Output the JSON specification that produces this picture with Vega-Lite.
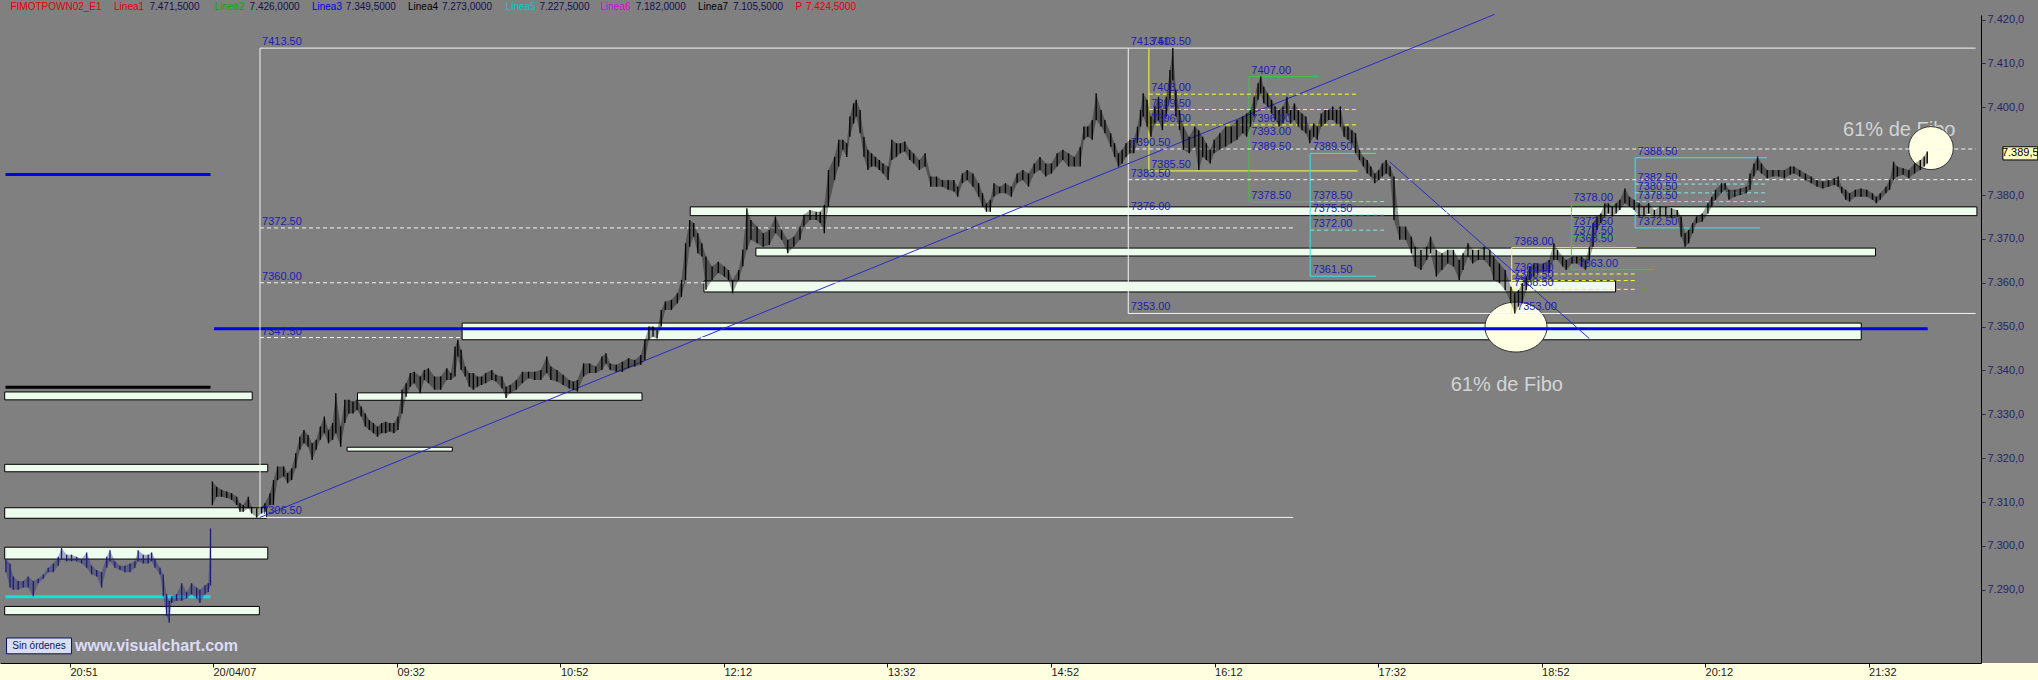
{
"$schema":"https://vega.github.io/schema/vega-lite/v6.json",
"width":1981,"height":648,
"autosize":{"type":"none"},
"padding":{"left":0,"top":15,"right":57,"bottom":17},
"background":"#808080",
"config":{"view":{"stroke":null,"fill":"#808080"},"legend":{"disable":true},"font":"Liberation Sans"},
"datasets":{
"zones":[
{"x":-191.9,"x2":-70.8,"y":7333.3,"y2":7335.1},
{"x":-191.9,"x2":-63.2,"y":7316.9,"y2":7318.6},
{"x":-191.9,"x2":-63.8,"y":7306.3,"y2":7308.7},
{"x":-191.9,"x2":-63.2,"y":7297.0,"y2":7299.7},
{"x":-191.9,"x2":-67.3,"y":7284.3,"y2":7286.2},
{"x":-19.3,"x2":119.9,"y":7333.2,"y2":7334.9},
{"x":-24.4,"x2":27.1,"y":7321.6,"y2":7322.5},
{"x":31.9,"x2":716.4,"y":7347.0,"y2":7350.8},
{"x":143.5,"x2":773.0,"y":7375.3,"y2":7377.3},
{"x":175.6,"x2":723.4,"y":7366.1,"y2":7367.9},
{"x":150.2,"x2":596.2,"y":7357.9,"y2":7360.4}],
"segs":[
{"x":-67,"x2":-67,"y":7306.5,"y2":7413.5,"k":"white"},
{"x":-67,"x2":772.4,"y":7413.5,"y2":7413.5,"k":"white"},
{"x":-67,"x2":438.5,"y":7306.5,"y2":7306.5,"k":"white"},
{"x":357.8,"x2":357.8,"y":7353,"y2":7413.5,"k":"white"},
{"x":357.8,"x2":772.4,"y":7353,"y2":7353,"k":"white"},
{"x":367.9,"x2":367.9,"y":7385.5,"y2":7413.5,"k":"yellow"},
{"x":367.9,"x2":470,"y":7385.5,"y2":7385.5,"k":"yellow"},
{"x":416.9,"x2":416.9,"y":7378.5,"y2":7407,"k":"green"},
{"x":416.9,"x2":451,"y":7407,"y2":7407,"k":"green"},
{"x":416.9,"x2":479,"y":7378.5,"y2":7378.5,"k":"green"},
{"x":446.8,"x2":446.8,"y":7361.5,"y2":7389.5,"k":"cyan"},
{"x":446.8,"x2":479,"y":7389.5,"y2":7389.5,"k":"cyan"},
{"x":446.8,"x2":479,"y":7361.5,"y2":7361.5,"k":"cyan"},
{"x":545.4,"x2":545.4,"y":7353,"y2":7368,"k":"yellow"},
{"x":545.4,"x2":606.4,"y":7368,"y2":7368,"k":"yellow"},
{"x":574.6,"x2":574.6,"y":7363,"y2":7378,"k":"green"},
{"x":574.6,"x2":596,"y":7378,"y2":7378,"k":"green"},
{"x":574.6,"x2":615.3,"y":7363,"y2":7363,"k":"green"},
{"x":605.8,"x2":605.8,"y":7372.5,"y2":7388.5,"k":"cyan"},
{"x":605.8,"x2":670.3,"y":7388.5,"y2":7388.5,"k":"cyan"},
{"x":605.8,"x2":666.8,"y":7372.5,"y2":7372.5,"k":"cyan"},
{"x":-67,"x2":537.1,"y":7306.5,"y2":7421.2,"k":"blue"},
{"x":485.6,"x2":583.3,"y":7387.6,"y2":7347.3,"k":"blue"}],
"dash":[
{"x":-67,"x2":438.5,"y":7372.5,"k":"white"},
{"x":-67,"x2":438.5,"y":7360.0,"k":"white"},
{"x":-67,"x2":438.5,"y":7347.5,"k":"white"},
{"x":357.8,"x2":772.4,"y":7390.5,"k":"white"},
{"x":357.8,"x2":772.4,"y":7383.5,"k":"white"},
{"x":357.8,"x2":772.4,"y":7376.0,"k":"white"},
{"x":367.9,"x2":470,"y":7403.0,"k":"yellow"},
{"x":367.9,"x2":470,"y":7399.5,"k":"yellow"},
{"x":367.9,"x2":470,"y":7396.0,"k":"yellow"},
{"x":545.4,"x2":606.4,"y":7362.0,"k":"yellow"},
{"x":545.4,"x2":606.4,"y":7360.5,"k":"yellow"},
{"x":545.4,"x2":606.4,"y":7358.5,"k":"yellow"},
{"x":446.8,"x2":483,"y":7378.5,"k":"cyan"},
{"x":446.8,"x2":483,"y":7375.5,"k":"cyan"},
{"x":446.8,"x2":483,"y":7372.0,"k":"cyan"},
{"x":605.8,"x2":670.3,"y":7382.5,"k":"cyan"},
{"x":605.8,"x2":670.3,"y":7380.5,"k":"cyan"},
{"x":605.8,"x2":670.3,"y":7378.5,"k":"cyan"},
{"x":574.6,"x2":596,"y":7372.5,"k":"green"},
{"x":574.6,"x2":596,"y":7370.5,"k":"green"},
{"x":574.6,"x2":596,"y":7368.5,"k":"green"}],
"thick":[
{"x":-89.5,"x2":748.9,"y":7349.5,"k":"blue"},
{"x":-191.5,"x2":-91.2,"y":7384.7,"k":"blue"},
{"x":-191.5,"x2":-91.2,"y":7336.2,"k":"black"},
{"x":-191.5,"x2":-91.2,"y":7288.4,"k":"cyan"}],
"circles":[{"x":547.5,"y":7349.9,"k":"a"},{"x":750.5,"y":7390.7,"k":"b"}],
"notes":[{"x":543,"y":7336.6,"text":"61% de Fibo"},{"x":735,"y":7394.9,"text":"61% de Fibo"}],
"labels":[
{"x":-66,"y":7413.5,"text":"7413.50"},{"x":-66,"y":7372.5,"text":"7372.50"},{"x":-66,"y":7360.0,"text":"7360.00"},{"x":-66,"y":7347.5,"text":"7347.50"},{"x":-66,"y":7306.5,"text":"7306.50"},
{"x":359,"y":7413.5,"text":"7413.50"},{"x":359,"y":7390.5,"text":"7390.50"},{"x":359,"y":7383.5,"text":"7383.50"},{"x":359,"y":7376.0,"text":"7376.00"},{"x":359,"y":7353.0,"text":"7353.00"},
{"x":369,"y":7413.5,"text":"7413.50"},{"x":369,"y":7403.0,"text":"7403.00"},{"x":369,"y":7399.5,"text":"7399.50"},{"x":369,"y":7396.0,"text":"7396.00"},{"x":369,"y":7385.5,"text":"7385.50"},
{"x":418,"y":7407.0,"text":"7407.00"},{"x":418,"y":7396.0,"text":"7396.00"},{"x":418,"y":7393.0,"text":"7393.00"},{"x":418,"y":7389.5,"text":"7389.50"},{"x":418,"y":7378.5,"text":"7378.50"},
{"x":448,"y":7389.5,"text":"7389.50"},{"x":448,"y":7378.5,"text":"7378.50"},{"x":448,"y":7375.5,"text":"7375.50"},{"x":448,"y":7372.0,"text":"7372.00"},{"x":448,"y":7361.5,"text":"7361.50"},
{"x":546.5,"y":7368.0,"text":"7368.00"},{"x":546.5,"y":7362.0,"text":"7362.00"},{"x":546.5,"y":7360.5,"text":"7360.50"},{"x":546.5,"y":7358.5,"text":"7358.50"},{"x":548,"y":7353.0,"text":"7353.00"},
{"x":575.5,"y":7378.0,"text":"7378.00"},{"x":575.5,"y":7372.5,"text":"7372.50"},{"x":575.5,"y":7370.5,"text":"7370.50"},{"x":575.5,"y":7368.5,"text":"7368.50"},{"x":578,"y":7363.0,"text":"7363.00"},
{"x":607,"y":7388.5,"text":"7388.50"},{"x":607,"y":7382.5,"text":"7382.50"},{"x":607,"y":7380.5,"text":"7380.50"},{"x":607,"y":7378.5,"text":"7378.50"},{"x":607,"y":7372.5,"text":"7372.50"}],
"header":[
{"x":-189.1,"y":7422.9,"text":"FIMOTPOWN02_E1","k":"red"},
{"x":-138.4,"y":7422.9,"text":"Linea1","k":"red"},
{"x":-121.1,"y":7422.9,"text":"7.471,5000","k":"navy"},
{"x":-89.3,"y":7422.9,"text":"Linea2","k":"green"},
{"x":-72.1,"y":7422.9,"text":"7.426,0000","k":"navy"},
{"x":-41.6,"y":7422.9,"text":"Linea3","k":"blue"},
{"x":-25.0,"y":7422.9,"text":"7.349,5000","k":"navy"},
{"x":5.4,"y":7422.9,"text":"Linea4","k":"black"},
{"x":22.0,"y":7422.9,"text":"7.273,0000","k":"navy"},
{"x":53.2,"y":7422.9,"text":"Linea5","k":"cyan"},
{"x":69.7,"y":7422.9,"text":"7.227,5000","k":"navy"},
{"x":99.6,"y":7422.9,"text":"Linea6","k":"magenta"},
{"x":116.8,"y":7422.9,"text":"7.182,0000","k":"navy"},
{"x":147.3,"y":7422.9,"text":"Linea7","k":"black"},
{"x":164.4,"y":7422.9,"text":"7.105,5000","k":"navy"},
{"x":195.0,"y":7422.9,"text":"P","k":"red"},
{"x":200.1,"y":7422.9,"text":"7.424,5000","k":"red"}],
"bars":[
{"x":-191.3,"y":7294.0,"y2":7297.0,"d":"p"},{"x":-189.3,"y":7290.5,"y2":7296.0,"d":"p"},{"x":-187.7,"y":7290.0,"y2":7293.0,"d":"p"},{"x":-185.3,"y":7290.0,"y2":7292.0,"d":"p"},{"x":-182.8,"y":7290.5,"y2":7292.0,"d":"p"},{"x":-180.4,"y":7290.5,"y2":7293.0,"d":"p"},{"x":-177.9,"y":7288.5,"y2":7292.0,"d":"p"},{"x":-175.5,"y":7291.5,"y2":7292.5,"d":"p"},{"x":-173.0,"y":7292.5,"y2":7293.5,"d":"p"},{"x":-170.6,"y":7294.0,"y2":7295.0,"d":"p"},{"x":-168.1,"y":7294.0,"y2":7296.0,"d":"p"},{"x":-165.7,"y":7295.5,"y2":7297.5,"d":"p"},{"x":-164.1,"y":7297.0,"y2":7299.5,"d":"p"},{"x":-161.6,"y":7296.5,"y2":7298.0,"d":"p"},{"x":-159.2,"y":7296.5,"y2":7298.0,"d":"p"},{"x":-156.7,"y":7296.5,"y2":7297.5,"d":"p"},{"x":-154.3,"y":7296.0,"y2":7297.0,"d":"p"},{"x":-151.8,"y":7295.0,"y2":7298.5,"d":"p"},{"x":-149.4,"y":7293.5,"y2":7295.5,"d":"p"},{"x":-146.9,"y":7293.0,"y2":7294.5,"d":"p"},{"x":-144.5,"y":7290.5,"y2":7294.0,"d":"p"},{"x":-142.0,"y":7295.0,"y2":7297.5,"d":"p"},{"x":-140.4,"y":7296.5,"y2":7299.0,"d":"p"},{"x":-138.0,"y":7295.0,"y2":7296.5,"d":"p"},{"x":-135.5,"y":7294.5,"y2":7295.5,"d":"p"},{"x":-133.1,"y":7294.0,"y2":7295.5,"d":"p"},{"x":-130.6,"y":7294.0,"y2":7296.0,"d":"p"},{"x":-128.2,"y":7295.0,"y2":7296.5,"d":"p"},{"x":-126.6,"y":7296.5,"y2":7299.0,"d":"p"},{"x":-124.1,"y":7296.0,"y2":7298.0,"d":"p"},{"x":-121.7,"y":7296.0,"y2":7298.0,"d":"p"},{"x":-120.0,"y":7296.5,"y2":7298.5,"d":"p"},{"x":-118.4,"y":7295.0,"y2":7297.0,"d":"p"},{"x":-115.9,"y":7293.5,"y2":7295.0,"d":"p"},{"x":-114.3,"y":7288.5,"y2":7293.5,"d":"p"},{"x":-112.7,"y":7284.0,"y2":7289.0,"d":"p"},{"x":-111.4,"y":7282.5,"y2":7287.5,"d":"p"},{"x":-110.2,"y":7287.0,"y2":7288.5,"d":"p"},{"x":-107.8,"y":7287.5,"y2":7289.0,"d":"p"},{"x":-105.3,"y":7287.5,"y2":7291.5,"d":"p"},{"x":-102.9,"y":7288.0,"y2":7289.5,"d":"p"},{"x":-100.5,"y":7289.0,"y2":7291.5,"d":"p"},{"x":-98.0,"y":7288.0,"y2":7290.5,"d":"p"},{"x":-96.4,"y":7287.0,"y2":7290.0,"d":"p"},{"x":-93.9,"y":7289.0,"y2":7291.0,"d":"p"},{"x":-92.3,"y":7289.5,"y2":7291.5,"d":"p"},{"x":-91.2,"y":7291.0,"y2":7304.0,"d":"p"},
{"x":-90.3,"y":7309.3,"y2":7314.7,"d":"c"},{"x":-88.2,"y":7311.2,"y2":7313.5,"d":"c"},{"x":-85.8,"y":7311.2,"y2":7312.8,"d":"c"},{"x":-83.3,"y":7310.9,"y2":7312.4,"d":"c"},{"x":-80.9,"y":7310.5,"y2":7312.0,"d":"c"},{"x":-78.4,"y":7309.3,"y2":7311.2,"d":"c"},{"x":-76.8,"y":7307.8,"y2":7309.7,"d":"c"},{"x":-75.2,"y":7307.8,"y2":7309.3,"d":"c"},{"x":-72.7,"y":7308.6,"y2":7311.2,"d":"c"},{"x":-71.1,"y":7307.4,"y2":7308.9,"d":"c"},{"x":-68.6,"y":7306.5,"y2":7308.6,"d":"c"},{"x":-66.2,"y":7307.4,"y2":7308.9,"d":"c"},{"x":-64.6,"y":7307.8,"y2":7309.7,"d":"c"},{"x":-62.1,"y":7309.3,"y2":7312.0,"d":"c"},{"x":-60.4,"y":7309.3,"y2":7315.0,"d":"c"},{"x":-58.4,"y":7315.0,"y2":7318.1,"d":"c"},{"x":-55.4,"y":7315.8,"y2":7318.1,"d":"c"},{"x":-53.5,"y":7314.3,"y2":7316.6,"d":"c"},{"x":-51.5,"y":7315.0,"y2":7317.7,"d":"c"},{"x":-49.5,"y":7317.7,"y2":7321.1,"d":"c"},{"x":-47.5,"y":7321.9,"y2":7324.9,"d":"c"},{"x":-45.5,"y":7323.4,"y2":7326.4,"d":"c"},{"x":-43.5,"y":7322.6,"y2":7325.3,"d":"c"},{"x":-41.5,"y":7319.6,"y2":7323.4,"d":"c"},{"x":-39.5,"y":7321.9,"y2":7324.2,"d":"c"},{"x":-37.5,"y":7324.2,"y2":7327.2,"d":"c"},{"x":-35.5,"y":7325.7,"y2":7329.5,"d":"c"},{"x":-33.5,"y":7323.4,"y2":7326.4,"d":"c"},{"x":-31.5,"y":7324.2,"y2":7328.0,"d":"c"},{"x":-29.9,"y":7325.7,"y2":7334.8,"d":"c"},{"x":-27.5,"y":7322.6,"y2":7327.2,"d":"c"},{"x":-25.5,"y":7328.0,"y2":7333.3,"d":"c"},{"x":-23.5,"y":7330.2,"y2":7333.3,"d":"c"},{"x":-21.5,"y":7330.2,"y2":7332.9,"d":"c"},{"x":-19.5,"y":7331.0,"y2":7333.3,"d":"c"},{"x":-17.5,"y":7329.5,"y2":7331.8,"d":"c"},{"x":-15.5,"y":7327.2,"y2":7330.2,"d":"c"},{"x":-13.5,"y":7326.4,"y2":7328.7,"d":"c"},{"x":-11.5,"y":7325.7,"y2":7328.0,"d":"c"},{"x":-9.5,"y":7324.9,"y2":7327.2,"d":"c"},{"x":-7.5,"y":7325.7,"y2":7328.0,"d":"c"},{"x":-5.5,"y":7325.7,"y2":7328.3,"d":"c"},{"x":-3.5,"y":7326.1,"y2":7328.0,"d":"c"},{"x":-1.5,"y":7325.7,"y2":7328.0,"d":"c"},{"x":0.5,"y":7326.4,"y2":7329.5,"d":"c"},{"x":2.5,"y":7330.2,"y2":7335.6,"d":"c"},{"x":4.5,"y":7334.0,"y2":7337.1,"d":"c"},{"x":6.5,"y":7336.3,"y2":7339.4,"d":"c"},{"x":8.5,"y":7337.1,"y2":7339.7,"d":"c"},{"x":11.4,"y":7334.8,"y2":7338.6,"d":"c"},{"x":13.4,"y":7337.8,"y2":7340.1,"d":"c"},{"x":15.4,"y":7337.1,"y2":7340.5,"d":"c"},{"x":18.4,"y":7335.6,"y2":7338.6,"d":"c"},{"x":21.4,"y":7335.6,"y2":7338.6,"d":"c"},{"x":24.4,"y":7337.8,"y2":7340.5,"d":"c"},{"x":26.4,"y":7337.8,"y2":7339.4,"d":"c"},{"x":28.4,"y":7338.6,"y2":7345.4,"d":"c"},{"x":29.8,"y":7343.2,"y2":7347.0,"d":"c"},{"x":31.4,"y":7340.1,"y2":7344.7,"d":"c"},{"x":33.4,"y":7338.6,"y2":7340.9,"d":"c"},{"x":35.4,"y":7336.3,"y2":7339.4,"d":"c"},{"x":37.4,"y":7335.6,"y2":7339.4,"d":"c"},{"x":39.4,"y":7336.3,"y2":7338.6,"d":"c"},{"x":41.4,"y":7336.7,"y2":7338.6,"d":"c"},{"x":43.4,"y":7337.1,"y2":7339.4,"d":"c"},{"x":46.4,"y":7337.8,"y2":7340.1,"d":"c"},{"x":48.4,"y":7337.5,"y2":7339.0,"d":"c"},{"x":51.4,"y":7335.9,"y2":7338.6,"d":"c"},{"x":53.4,"y":7333.7,"y2":7336.3,"d":"c"},{"x":55.4,"y":7334.8,"y2":7336.7,"d":"c"},{"x":58.4,"y":7335.6,"y2":7337.8,"d":"c"},{"x":61.4,"y":7337.1,"y2":7339.7,"d":"c"},{"x":64.4,"y":7338.2,"y2":7339.7,"d":"c"},{"x":67.4,"y":7337.8,"y2":7339.7,"d":"c"},{"x":70.4,"y":7337.8,"y2":7340.1,"d":"c"},{"x":73.3,"y":7339.4,"y2":7343.2,"d":"c"},{"x":75.3,"y":7337.8,"y2":7340.9,"d":"c"},{"x":78.3,"y":7337.5,"y2":7340.1,"d":"c"},{"x":81.3,"y":7336.7,"y2":7339.0,"d":"c"},{"x":84.3,"y":7335.9,"y2":7337.8,"d":"c"},{"x":86.3,"y":7335.6,"y2":7337.5,"d":"c"},{"x":88.3,"y":7335.2,"y2":7337.8,"d":"c"},{"x":91.3,"y":7338.6,"y2":7341.6,"d":"c"},{"x":94.3,"y":7339.4,"y2":7341.6,"d":"c"},{"x":97.3,"y":7339.4,"y2":7340.9,"d":"c"},{"x":100.3,"y":7340.1,"y2":7343.2,"d":"c"},{"x":102.3,"y":7341.6,"y2":7343.9,"d":"c"},{"x":104.3,"y":7340.1,"y2":7341.6,"d":"c"},{"x":107.3,"y":7339.7,"y2":7341.3,"d":"c"},{"x":110.3,"y":7339.7,"y2":7342.0,"d":"c"},{"x":113.3,"y":7340.5,"y2":7342.8,"d":"c"},{"x":116.3,"y":7340.9,"y2":7342.4,"d":"c"},{"x":119.3,"y":7341.3,"y2":7343.5,"d":"c"},{"x":121.3,"y":7342.4,"y2":7347.0,"d":"c"},{"x":123.3,"y":7347.0,"y2":7350.0,"d":"c"},{"x":125.3,"y":7347.7,"y2":7350.0,"d":"c"},{"x":127.3,"y":7347.3,"y2":7349.2,"d":"c"},{"x":129.3,"y":7350.0,"y2":7353.8,"d":"c"},{"x":131.3,"y":7353.8,"y2":7355.7,"d":"c"},{"x":134.3,"y":7353.8,"y2":7356.1,"d":"c"},{"x":137.2,"y":7355.3,"y2":7357.6,"d":"c"},{"x":139.2,"y":7356.8,"y2":7360.6,"d":"c"},{"x":141.2,"y":7360.6,"y2":7369.0,"d":"c"},{"x":143.2,"y":7368.2,"y2":7374.3,"d":"c"},{"x":145.2,"y":7370.5,"y2":7373.6,"d":"c"},{"x":147.2,"y":7366.7,"y2":7371.3,"d":"c"},{"x":149.2,"y":7366.0,"y2":7369.0,"d":"c"},{"x":151.2,"y":7358.4,"y2":7366.0,"d":"c"},{"x":154.2,"y":7360.6,"y2":7363.7,"d":"c"},{"x":157.2,"y":7362.2,"y2":7364.8,"d":"c"},{"x":160.2,"y":7361.4,"y2":7363.7,"d":"c"},{"x":162.2,"y":7360.6,"y2":7362.9,"d":"c"},{"x":164.2,"y":7357.6,"y2":7360.6,"d":"c"},{"x":167.2,"y":7360.6,"y2":7362.9,"d":"c"},{"x":169.2,"y":7363.7,"y2":7367.5,"d":"c"},{"x":171.2,"y":7367.5,"y2":7377.0,"d":"c"},{"x":173.2,"y":7369.8,"y2":7374.3,"d":"c"},{"x":176.2,"y":7369.0,"y2":7372.8,"d":"c"},{"x":179.2,"y":7368.2,"y2":7371.3,"d":"c"},{"x":182.2,"y":7368.6,"y2":7372.0,"d":"c"},{"x":185.2,"y":7371.3,"y2":7375.1,"d":"c"},{"x":188.2,"y":7369.8,"y2":7372.0,"d":"c"},{"x":191.2,"y":7366.7,"y2":7369.8,"d":"c"},{"x":194.2,"y":7368.2,"y2":7370.5,"d":"c"},{"x":197.2,"y":7369.8,"y2":7372.8,"d":"c"},{"x":199.1,"y":7372.8,"y2":7375.5,"d":"c"},{"x":202.1,"y":7374.3,"y2":7376.6,"d":"c"},{"x":205.1,"y":7374.3,"y2":7376.2,"d":"c"},{"x":207.1,"y":7373.6,"y2":7376.2,"d":"c"},{"x":209.1,"y":7371.3,"y2":7377.7,"d":"c"},{"x":211.1,"y":7377.4,"y2":7385.7,"d":"c"},{"x":214.1,"y":7383.4,"y2":7388.7,"d":"c"},{"x":216.1,"y":7386.5,"y2":7392.6,"d":"c"},{"x":218.2,"y":7390.3,"y2":7392.6,"d":"c"},{"x":220.1,"y":7388.7,"y2":7391.8,"d":"c"},{"x":221.6,"y":7393.3,"y2":7397.9,"d":"c"},{"x":223.4,"y":7396.3,"y2":7400.9,"d":"c"},{"x":224.7,"y":7397.9,"y2":7401.7,"d":"c"},{"x":226.6,"y":7394.1,"y2":7399.4,"d":"c"},{"x":228.5,"y":7388.7,"y2":7393.3,"d":"c"},{"x":230.4,"y":7385.7,"y2":7390.3,"d":"c"},{"x":232.2,"y":7386.5,"y2":7389.5,"d":"c"},{"x":234.1,"y":7386.5,"y2":7388.7,"d":"c"},{"x":236.0,"y":7385.7,"y2":7388.0,"d":"c"},{"x":237.8,"y":7384.9,"y2":7387.2,"d":"c"},{"x":240.3,"y":7383.4,"y2":7386.5,"d":"c"},{"x":242.1,"y":7388.0,"y2":7392.6,"d":"c"},{"x":244.4,"y":7388.7,"y2":7391.8,"d":"c"},{"x":246.3,"y":7389.5,"y2":7391.8,"d":"c"},{"x":248.5,"y":7389.9,"y2":7392.2,"d":"c"},{"x":250.9,"y":7388.0,"y2":7390.3,"d":"c"},{"x":252.8,"y":7387.2,"y2":7389.5,"d":"c"},{"x":255.6,"y":7385.7,"y2":7388.0,"d":"c"},{"x":258.4,"y":7386.5,"y2":7389.5,"d":"c"},{"x":261.2,"y":7381.9,"y2":7384.2,"d":"c"},{"x":264.0,"y":7381.9,"y2":7384.2,"d":"c"},{"x":266.9,"y":7381.9,"y2":7383.4,"d":"c"},{"x":269.7,"y":7381.2,"y2":7383.4,"d":"c"},{"x":272.5,"y":7380.8,"y2":7383.4,"d":"c"},{"x":274.4,"y":7379.6,"y2":7381.9,"d":"c"},{"x":276.6,"y":7382.7,"y2":7384.9,"d":"c"},{"x":279.0,"y":7383.4,"y2":7385.7,"d":"c"},{"x":281.8,"y":7381.9,"y2":7384.9,"d":"c"},{"x":284.6,"y":7379.6,"y2":7382.7,"d":"c"},{"x":286.5,"y":7377.4,"y2":7380.4,"d":"c"},{"x":288.4,"y":7376.2,"y2":7378.1,"d":"c"},{"x":290.3,"y":7376.2,"y2":7378.9,"d":"c"},{"x":292.1,"y":7379.6,"y2":7382.7,"d":"c"},{"x":294.9,"y":7380.4,"y2":7381.9,"d":"c"},{"x":297.7,"y":7380.4,"y2":7382.7,"d":"c"},{"x":300.6,"y":7379.6,"y2":7381.9,"d":"c"},{"x":303.4,"y":7382.7,"y2":7384.9,"d":"c"},{"x":306.2,"y":7383.4,"y2":7385.7,"d":"c"},{"x":309.0,"y":7381.9,"y2":7384.9,"d":"c"},{"x":311.8,"y":7384.9,"y2":7387.2,"d":"c"},{"x":314.6,"y":7385.7,"y2":7388.7,"d":"c"},{"x":317.4,"y":7384.2,"y2":7387.2,"d":"c"},{"x":320.2,"y":7384.9,"y2":7387.2,"d":"c"},{"x":323.0,"y":7386.5,"y2":7389.5,"d":"c"},{"x":325.8,"y":7388.0,"y2":7390.3,"d":"c"},{"x":328.6,"y":7386.5,"y2":7389.5,"d":"c"},{"x":331.4,"y":7386.5,"y2":7388.7,"d":"c"},{"x":334.3,"y":7386.5,"y2":7391.0,"d":"c"},{"x":336.1,"y":7392.6,"y2":7395.6,"d":"c"},{"x":338.0,"y":7393.3,"y2":7395.6,"d":"c"},{"x":340.2,"y":7392.6,"y2":7397.1,"d":"c"},{"x":342.1,"y":7397.1,"y2":7403.2,"d":"c"},{"x":344.5,"y":7395.6,"y2":7399.4,"d":"c"},{"x":346.4,"y":7394.1,"y2":7397.1,"d":"c"},{"x":349.2,"y":7391.0,"y2":7394.1,"d":"c"},{"x":351.1,"y":7388.7,"y2":7391.8,"d":"c"},{"x":353.0,"y":7386.5,"y2":7389.5,"d":"c"},{"x":354.8,"y":7387.2,"y2":7390.3,"d":"c"},{"x":356.7,"y":7388.7,"y2":7391.8,"d":"c"},{"x":358.6,"y":7389.5,"y2":7392.6,"d":"c"},{"x":360.5,"y":7389.5,"y2":7392.6,"d":"c"},{"x":362.3,"y":7391.8,"y2":7395.6,"d":"c"},{"x":363.8,"y":7395.6,"y2":7399.4,"d":"c"},{"x":365.1,"y":7397.9,"y2":7403.2,"d":"c"},{"x":367.0,"y":7395.6,"y2":7401.7,"d":"c"},{"x":368.9,"y":7393.3,"y2":7397.9,"d":"c"},{"x":370.8,"y":7396.3,"y2":7400.2,"d":"c"},{"x":372.6,"y":7397.1,"y2":7402.4,"d":"c"},{"x":374.5,"y":7394.8,"y2":7399.4,"d":"c"},{"x":376.4,"y":7397.9,"y2":7402.4,"d":"c"},{"x":378.2,"y":7401.7,"y2":7408.5,"d":"c"},{"x":379.6,"y":7406.2,"y2":7413.5,"d":"c"},{"x":381.1,"y":7397.9,"y2":7404.0,"d":"c"},{"x":382.9,"y":7394.8,"y2":7399.4,"d":"c"},{"x":384.8,"y":7390.3,"y2":7395.6,"d":"c"},{"x":387.6,"y":7389.5,"y2":7393.3,"d":"c"},{"x":390.4,"y":7391.0,"y2":7395.6,"d":"c"},{"x":392.3,"y":7385.7,"y2":7394.8,"d":"c"},{"x":394.2,"y":7388.7,"y2":7393.3,"d":"c"},{"x":396.0,"y":7388.0,"y2":7391.8,"d":"c"},{"x":397.9,"y":7387.2,"y2":7390.3,"d":"c"},{"x":399.8,"y":7389.5,"y2":7392.6,"d":"c"},{"x":402.6,"y":7390.3,"y2":7394.1,"d":"c"},{"x":405.4,"y":7391.0,"y2":7395.6,"d":"c"},{"x":408.2,"y":7391.8,"y2":7395.6,"d":"c"},{"x":411.0,"y":7392.6,"y2":7397.1,"d":"c"},{"x":413.8,"y":7394.1,"y2":7397.9,"d":"c"},{"x":415.7,"y":7393.3,"y2":7398.6,"d":"c"},{"x":417.6,"y":7395.6,"y2":7399.4,"d":"c"},{"x":419.4,"y":7397.9,"y2":7402.4,"d":"c"},{"x":421.3,"y":7401.7,"y2":7405.5,"d":"c"},{"x":422.6,"y":7403.2,"y2":7407.0,"d":"c"},{"x":424.1,"y":7400.9,"y2":7404.7,"d":"c"},{"x":426.0,"y":7400.2,"y2":7403.2,"d":"c"},{"x":427.9,"y":7398.6,"y2":7401.7,"d":"c"},{"x":429.7,"y":7397.1,"y2":7400.2,"d":"c"},{"x":431.6,"y":7395.6,"y2":7399.4,"d":"c"},{"x":433.5,"y":7396.3,"y2":7400.2,"d":"c"},{"x":435.4,"y":7398.6,"y2":7402.4,"d":"c"},{"x":437.2,"y":7396.3,"y2":7399.4,"d":"c"},{"x":439.1,"y":7397.1,"y2":7400.9,"d":"c"},{"x":441.0,"y":7395.6,"y2":7399.4,"d":"c"},{"x":442.8,"y":7394.8,"y2":7398.6,"d":"c"},{"x":444.7,"y":7394.1,"y2":7397.9,"d":"c"},{"x":446.6,"y":7391.8,"y2":7394.8,"d":"c"},{"x":448.5,"y":7393.3,"y2":7396.3,"d":"c"},{"x":450.3,"y":7392.6,"y2":7395.6,"d":"c"},{"x":452.2,"y":7395.6,"y2":7398.6,"d":"c"},{"x":454.1,"y":7396.3,"y2":7399.4,"d":"c"},{"x":455.9,"y":7397.1,"y2":7399.4,"d":"c"},{"x":457.8,"y":7397.1,"y2":7400.2,"d":"c"},{"x":459.7,"y":7396.3,"y2":7399.4,"d":"c"},{"x":461.6,"y":7395.6,"y2":7400.2,"d":"c"},{"x":463.4,"y":7393.3,"y2":7395.6,"d":"c"},{"x":465.3,"y":7392.6,"y2":7395.6,"d":"c"},{"x":467.2,"y":7391.8,"y2":7394.8,"d":"c"},{"x":469.0,"y":7389.5,"y2":7394.1,"d":"c"},{"x":470.9,"y":7388.0,"y2":7390.3,"d":"c"},{"x":472.8,"y":7386.5,"y2":7388.7,"d":"c"},{"x":474.7,"y":7384.9,"y2":7388.0,"d":"c"},{"x":476.5,"y":7384.2,"y2":7386.5,"d":"c"},{"x":478.4,"y":7382.7,"y2":7384.9,"d":"c"},{"x":480.3,"y":7383.4,"y2":7385.7,"d":"c"},{"x":482.1,"y":7384.2,"y2":7387.2,"d":"c"},{"x":484.0,"y":7384.9,"y2":7388.0,"d":"c"},{"x":485.9,"y":7384.2,"y2":7386.5,"d":"c"},{"x":487.8,"y":7374.3,"y2":7384.2,"d":"c"},{"x":490.6,"y":7369.8,"y2":7372.8,"d":"c"},{"x":493.5,"y":7369.8,"y2":7372.8,"d":"c"},{"x":496.3,"y":7366.7,"y2":7370.5,"d":"c"},{"x":498.2,"y":7363.7,"y2":7368.2,"d":"c"},{"x":501.0,"y":7362.9,"y2":7367.5,"d":"c"},{"x":503.8,"y":7365.2,"y2":7368.2,"d":"c"},{"x":505.7,"y":7366.7,"y2":7370.5,"d":"c"},{"x":508.5,"y":7361.4,"y2":7367.5,"d":"c"},{"x":511.3,"y":7362.9,"y2":7366.7,"d":"c"},{"x":514.1,"y":7364.4,"y2":7367.5,"d":"c"},{"x":516.9,"y":7363.7,"y2":7367.5,"d":"c"},{"x":519.7,"y":7360.6,"y2":7365.2,"d":"c"},{"x":521.6,"y":7362.9,"y2":7366.7,"d":"c"},{"x":524.0,"y":7366.0,"y2":7369.0,"d":"c"},{"x":526.3,"y":7364.4,"y2":7367.5,"d":"c"},{"x":529.1,"y":7365.2,"y2":7367.5,"d":"c"},{"x":531.9,"y":7365.2,"y2":7368.2,"d":"c"},{"x":534.7,"y":7363.7,"y2":7367.5,"d":"c"},{"x":536.6,"y":7360.6,"y2":7366.0,"d":"c"},{"x":539.4,"y":7359.9,"y2":7364.4,"d":"c"},{"x":542.2,"y":7358.3,"y2":7362.9,"d":"c"},{"x":545.0,"y":7355.3,"y2":7359.1,"d":"c"},{"x":546.9,"y":7353.0,"y2":7357.6,"d":"c"},{"x":548.7,"y":7354.6,"y2":7358.3,"d":"c"},{"x":550.6,"y":7355.3,"y2":7359.9,"d":"c"},{"x":552.5,"y":7358.3,"y2":7361.4,"d":"c"},{"x":554.3,"y":7360.6,"y2":7363.7,"d":"c"},{"x":556.2,"y":7361.4,"y2":7364.4,"d":"c"},{"x":558.1,"y":7362.2,"y2":7364.4,"d":"c"},{"x":560.9,"y":7362.5,"y2":7364.4,"d":"c"},{"x":563.7,"y":7362.2,"y2":7365.2,"d":"c"},{"x":566.0,"y":7365.2,"y2":7369.0,"d":"c"},{"x":567.8,"y":7365.2,"y2":7367.5,"d":"c"},{"x":570.3,"y":7363.7,"y2":7366.0,"d":"c"},{"x":572.1,"y":7362.9,"y2":7365.2,"d":"c"},{"x":574.9,"y":7364.4,"y2":7366.0,"d":"c"},{"x":577.2,"y":7364.4,"y2":7366.0,"d":"c"},{"x":579.6,"y":7363.7,"y2":7366.0,"d":"c"},{"x":581.5,"y":7362.9,"y2":7365.2,"d":"c"},{"x":583.4,"y":7365.2,"y2":7368.2,"d":"c"},{"x":585.2,"y":7368.2,"y2":7373.6,"d":"c"},{"x":587.1,"y":7372.0,"y2":7375.1,"d":"c"},{"x":589.0,"y":7373.6,"y2":7375.8,"d":"c"},{"x":590.9,"y":7375.1,"y2":7378.1,"d":"c"},{"x":592.7,"y":7375.8,"y2":7378.1,"d":"c"},{"x":594.6,"y":7375.1,"y2":7377.4,"d":"c"},{"x":596.5,"y":7375.8,"y2":7378.1,"d":"c"},{"x":598.3,"y":7376.6,"y2":7378.9,"d":"c"},{"x":600.8,"y":7378.1,"y2":7381.5,"d":"c"},{"x":603.0,"y":7377.4,"y2":7379.6,"d":"c"},{"x":605.3,"y":7376.6,"y2":7378.9,"d":"c"},{"x":607.7,"y":7375.1,"y2":7378.1,"d":"c"},{"x":610.1,"y":7375.1,"y2":7377.4,"d":"c"},{"x":612.4,"y":7375.8,"y2":7378.1,"d":"c"},{"x":615.2,"y":7375.1,"y2":7376.6,"d":"c"},{"x":618.0,"y":7375.1,"y2":7377.4,"d":"c"},{"x":620.8,"y":7375.1,"y2":7377.4,"d":"c"},{"x":623.6,"y":7374.7,"y2":7377.0,"d":"c"},{"x":626.4,"y":7375.1,"y2":7376.6,"d":"c"},{"x":628.3,"y":7370.5,"y2":7375.1,"d":"c"},{"x":630.2,"y":7368.2,"y2":7371.3,"d":"c"},{"x":632.0,"y":7369.0,"y2":7372.0,"d":"c"},{"x":633.9,"y":7371.3,"y2":7373.6,"d":"c"},{"x":635.8,"y":7373.6,"y2":7375.1,"d":"c"},{"x":638.6,"y":7373.9,"y2":7375.8,"d":"c"},{"x":641.4,"y":7375.8,"y2":7378.1,"d":"c"},{"x":643.3,"y":7377.4,"y2":7379.6,"d":"c"},{"x":645.1,"y":7378.9,"y2":7381.2,"d":"c"},{"x":648.0,"y":7380.4,"y2":7382.7,"d":"c"},{"x":649.8,"y":7381.2,"y2":7382.7,"d":"c"},{"x":651.7,"y":7378.9,"y2":7381.2,"d":"c"},{"x":654.5,"y":7379.6,"y2":7381.2,"d":"c"},{"x":657.3,"y":7380.0,"y2":7381.5,"d":"c"},{"x":660.1,"y":7380.4,"y2":7381.9,"d":"c"},{"x":662.0,"y":7381.2,"y2":7384.9,"d":"c"},{"x":663.9,"y":7384.2,"y2":7387.2,"d":"c"},{"x":665.7,"y":7385.7,"y2":7388.8,"d":"c"},{"x":667.6,"y":7384.9,"y2":7387.2,"d":"c"},{"x":670.4,"y":7383.8,"y2":7385.7,"d":"c"},{"x":673.2,"y":7384.2,"y2":7385.7,"d":"c"},{"x":676.0,"y":7384.2,"y2":7385.7,"d":"c"},{"x":678.8,"y":7383.8,"y2":7385.7,"d":"c"},{"x":681.7,"y":7384.6,"y2":7386.5,"d":"c"},{"x":683.5,"y":7384.9,"y2":7386.5,"d":"c"},{"x":686.3,"y":7384.2,"y2":7385.7,"d":"c"},{"x":689.1,"y":7383.4,"y2":7384.9,"d":"c"},{"x":691.9,"y":7382.7,"y2":7384.2,"d":"c"},{"x":694.8,"y":7381.9,"y2":7383.4,"d":"c"},{"x":697.6,"y":7381.5,"y2":7383.1,"d":"c"},{"x":700.4,"y":7381.9,"y2":7383.4,"d":"c"},{"x":703.2,"y":7382.3,"y2":7383.8,"d":"c"},{"x":705.1,"y":7381.9,"y2":7384.2,"d":"c"},{"x":706.9,"y":7380.4,"y2":7381.9,"d":"c"},{"x":708.8,"y":7378.9,"y2":7381.2,"d":"c"},{"x":710.7,"y":7378.5,"y2":7380.4,"d":"c"},{"x":713.5,"y":7379.6,"y2":7381.2,"d":"c"},{"x":716.3,"y":7379.6,"y2":7381.5,"d":"c"},{"x":719.1,"y":7379.6,"y2":7381.2,"d":"c"},{"x":721.9,"y":7378.9,"y2":7380.4,"d":"c"},{"x":723.8,"y":7378.1,"y2":7379.6,"d":"c"},{"x":725.7,"y":7378.9,"y2":7380.4,"d":"c"},{"x":728.5,"y":7380.4,"y2":7381.9,"d":"c"},{"x":730.3,"y":7381.2,"y2":7383.4,"d":"c"},{"x":732.2,"y":7383.4,"y2":7387.6,"d":"c"},{"x":734.1,"y":7384.2,"y2":7386.5,"d":"c"},{"x":736.9,"y":7384.6,"y2":7386.1,"d":"c"},{"x":739.7,"y":7383.8,"y2":7385.7,"d":"c"},{"x":742.5,"y":7384.9,"y2":7387.2,"d":"c"},{"x":745.3,"y":7385.7,"y2":7388.0,"d":"c"},{"x":747.2,"y":7386.5,"y2":7388.8,"d":"c"},{"x":748.7,"y":7387.2,"y2":7389.9,"d":"c"}]
},
"encoding":{
 "x":{"field":"x","type":"quantitative","scale":{"domain":[-194.2,775],"nice":false,"zero":false},
  "axis":{"orient":"bottom","title":null,"grid":false,"zindex":1,"values":[-160,-90,0,80,160,240,320,400,480,560,640,720],
   "labelExpr":"['20:51','20/04/07','09:32','10:52','12:12','13:32','14:52','16:12','17:32','18:52','20:12','21:32'][indexof([-160,-90,0,80,160,240,320,400,480,560,640,720], datum.value)]",
   "labelAlign":"left","labelFont":"Liberation Sans","labelFontSize":11,"labelColor":"#1a1a1a","tickColor":"#1a1a1a","tickSize":4,"labelPadding":-1,"domainColor":"#000000","labelOverlap":false,"labelFlush":false}},
 "y":{"field":"y","type":"quantitative","scale":{"domain":[7273.3,7421.05],"nice":false,"zero":false},
  "axis":{"orient":"right","title":null,"grid":false,"zindex":1,"values":[7290,7300,7310,7320,7330,7340,7350,7360,7370,7380,7400,7410,7420],
   "labelExpr":"'7.' + format(datum.value - 7000, 'd') + ',0'",
   "labelFont":"Liberation Sans","labelFontSize":11,"labelColor":"#24246a","tickColor":"#24246a","tickSize":4,"labelPadding":2,"domainColor":"#000000","labelOverlap":false,"labelFlush":false}}
},
"resolve":{"scale":{"color":"independent"}},
"layer":[
 {"data":{"values":[{"x":-200,"x2":810,"y":7273.3,"y2":7255}]},"mark":{"type":"rect","fill":"#FFFFE0"},"encoding":{"x2":{"field":"x2"},"y2":{"field":"y2"}}},
 {"data":{"name":"zones"},"mark":{"type":"rect","fill":"#EEFCEE","stroke":"#000000","strokeWidth":1},"encoding":{"x2":{"field":"x2"},"y2":{"field":"y2"}}},
 {"data":{"name":"notes"},"mark":{"type":"text","fontSize":20,"fill":"#d4d4d4","align":"center","baseline":"middle","font":"Liberation Sans"},"encoding":{"text":{"field":"text"}}},
 {"data":{"name":"circles"},"transform":[{"filter":"datum.k=='a'"}],"mark":{"type":"point","filled":true,"fill":"#FFFFE4","opacity":1,"stroke":"#333333","strokeWidth":1,"size":2500,"shape":"M-1.24,0A1.24,1,0,1,1,1.24,0A1.24,1,0,1,1,-1.24,0Z"}},
 {"data":{"name":"circles"},"transform":[{"filter":"datum.k=='b'"}],"mark":{"type":"point","filled":true,"fill":"#FFFFE4","opacity":1,"stroke":"#333333","strokeWidth":1,"size":1849,"shape":"M-1.04,0A1.04,1,0,1,1,1.04,0A1.04,1,0,1,1,-1.04,0Z"}},
 {"data":{"name":"thick"},"mark":{"type":"rule","strokeWidth":3},"encoding":{"x2":{"field":"x2"},"color":{"field":"k","type":"nominal","scale":{"domain":["blue","black","cyan"],"range":["#0000e8","#000000","#10e0e0"]}}}},
 {"data":{"name":"segs"},"mark":{"type":"rule","strokeWidth":1},"encoding":{"x2":{"field":"x2"},"y2":{"field":"y2"},"color":{"field":"k","type":"nominal","scale":{"domain":["white","yellow","green","cyan","blue"],"range":["#f4f4f4","#ffff30","#30d030","#30e8e8","#2a2ac8"]}}}},
 {"data":{"name":"dash"},"mark":{"type":"rule","strokeWidth":1,"strokeDash":[4,3]},"encoding":{"x2":{"field":"x2"},"color":{"field":"k","type":"nominal","scale":{"domain":["white","yellow","green","cyan"],"range":["#f4f4f4","#ffff30","#30d030","#80e8e8"]}}}},
 {"data":{"name":"bars"},"mark":{"type":"area","opacity":0.35},"encoding":{"y2":{"field":"y2"},"color":{"field":"d","type":"nominal","scale":{"domain":["p","c"],"range":["#1c1c78","#000000"]}}}},
 {"data":{"name":"bars"},"mark":{"type":"rule","strokeWidth":1.3},"encoding":{"y2":{"field":"y2"},"color":{"field":"d","type":"nominal","scale":{"domain":["p","c"],"range":["#1c1c78","#000000"]}}}},
 {"data":{"name":"labels"},"mark":{"type":"text","fontSize":11,"fill":"#1c1cb4","align":"left","baseline":"alphabetic","dy":-3,"font":"Liberation Sans"},"encoding":{"text":{"field":"text"}}},
 {"data":{"name":"header"},"mark":{"type":"text","fontSize":10,"align":"left","baseline":"middle","font":"Liberation Sans"},"encoding":{"text":{"field":"text"},"color":{"field":"k","type":"nominal","scale":{"domain":["red","navy","green","blue","black","cyan","magenta"],"range":["#e00000","#101050","#00b000","#0000e0","#000000","#00c8c8","#e000e0"]}}}},
 {"data":{"values":[{"x":785.7,"x2":802.8,"y":7388.0,"y2":7391.0}]},"mark":{"type":"rect","fill":"#FFFFC0","stroke":"#000000","strokeWidth":1},"encoding":{"x2":{"field":"x2"},"y2":{"field":"y2"}}},
 {"data":{"values":[{"x":794.2,"y":7389.5,"text":"7.389,5"}]},"mark":{"type":"text","fontSize":11,"fill":"#000000","align":"center","baseline":"middle","font":"Liberation Sans"},"encoding":{"text":{"field":"text"}}},
 {"data":{"values":[{"x":-191.0,"x2":-159.2,"y":7275.4,"y2":7279.0}]},"mark":{"type":"rect","fill":"#d8e0f0","stroke":"#101060","strokeWidth":1},"encoding":{"x2":{"field":"x2"},"y2":{"field":"y2"}}},
 {"data":{"values":[{"x":-175.1,"y":7277.2,"text":"Sin órdenes"}]},"mark":{"type":"text","fontSize":10,"fill":"#101060","align":"center","baseline":"middle","font":"Liberation Sans"},"encoding":{"text":{"field":"text"}}},
 {"data":{"values":[{"x":-157.5,"y":7277.2,"text":"www.visualchart.com"}]},"mark":{"type":"text","fontSize":16,"fontWeight":"bold","fill":"#dcdcf8","align":"left","baseline":"middle","font":"Liberation Sans"},"encoding":{"text":{"field":"text"}}}
]
}
